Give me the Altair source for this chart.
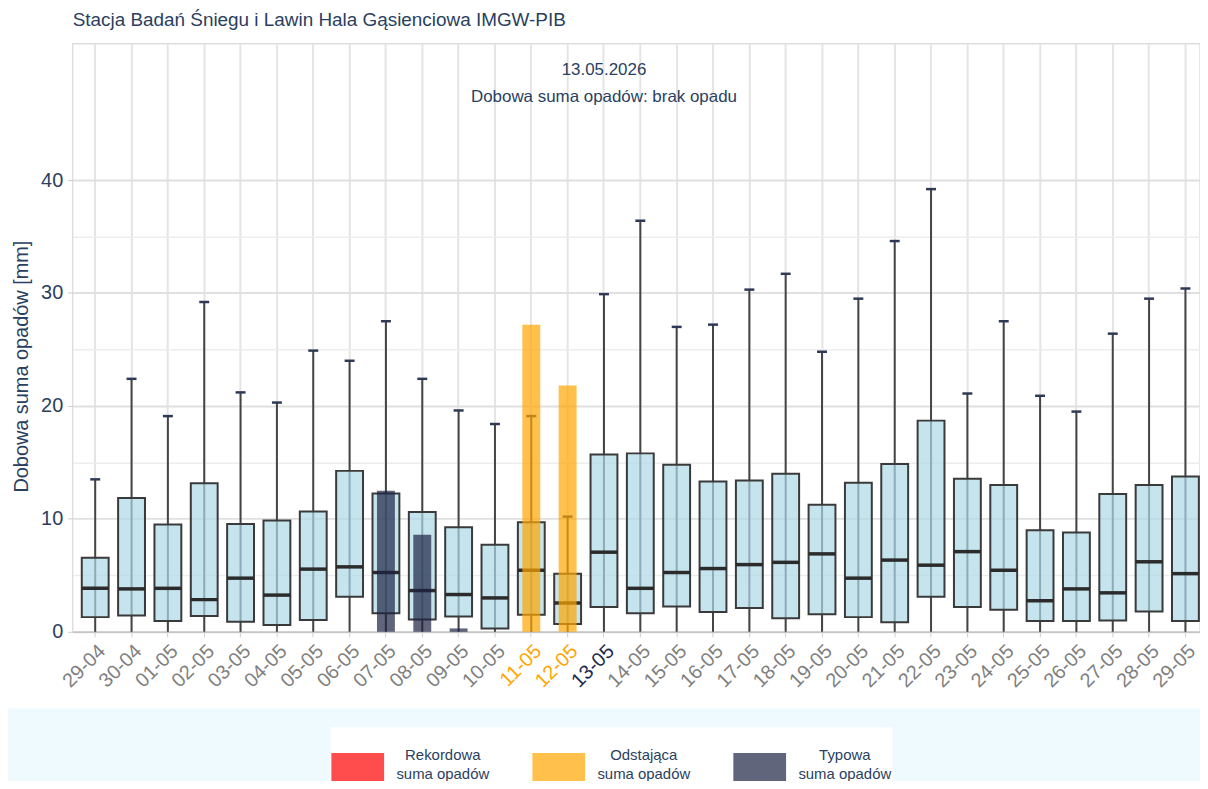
import altair as alt
import pandas as pd

# ---- data ----
dates = ["29-04", "30-04", "01-05", "02-05", "03-05", "04-05", "05-05", "06-05",
         "07-05", "08-05", "09-05", "10-05", "11-05", "12-05", "13-05", "14-05",
         "15-05", "16-05", "17-05", "18-05", "19-05", "20-05", "21-05", "22-05",
         "23-05", "24-05", "25-05", "26-05", "27-05", "28-05", "29-05"]
lows = [0.0] * 31
q1 = [1.3, 1.45, 0.95, 1.4, 0.9, 0.6, 1.05, 3.1, 1.65, 1.1, 1.35, 0.3, 1.5, 0.7, 2.2, 1.65,
      2.25, 1.75, 2.1, 1.2, 1.55, 1.3, 0.85, 3.1, 2.2, 1.95, 0.95, 0.95, 1.0, 1.8, 0.95]
medians = [3.85, 3.8, 3.85, 2.85, 4.75, 3.25, 5.55, 5.75, 5.25, 3.65, 3.3, 3.0, 5.45, 2.55, 7.05, 3.85,
           5.25, 5.6, 5.95, 6.15, 6.9, 4.75, 6.35, 5.9, 7.1, 5.45, 2.75, 3.8, 3.45, 6.2, 5.15]
q3 = [6.55, 11.85, 9.5, 13.15, 9.55, 9.85, 10.65, 14.25, 12.25, 10.6, 9.25, 7.7, 9.7, 5.15, 15.7, 15.8,
      14.8, 13.3, 13.4, 14.0, 11.25, 13.2, 14.85, 18.7, 13.55, 13.0, 9.0, 8.8, 12.2, 13.0, 13.75]
highs = [13.5, 22.4, 19.1, 29.2, 21.2, 20.3, 24.9, 24.0, 27.5, 22.4, 19.6, 18.4, 19.1, 10.2, 29.9, 36.4,
         27.0, 27.2, 30.3, 31.7, 24.8, 29.5, 34.6, 39.2, 21.1, 27.5, 20.9, 19.5, 26.4, 29.5, 30.4]

obs_dates = ["07-05", "08-05", "09-05", "11-05", "12-05"]
obs_values = [12.5, 8.6, 0.3, 27.2, 21.8]
obs_class = ["Typowa", "Typowa", "Typowa", "Odstająca", "Odstająca"]

class_names = ["Rekordowa", "Odstająca", "Typowa"]
class_colors = ["#ff0000", "#ffa500", "#1c2445"]

today = "13-05"
note_lines = "13.05.2026\nDobowa suma opadów: brak opadu"
title_text = "Stacja Badań Śniegu i Lawin Hala Gąsienciowa IMGW-PIB"
y_title = "Dobowa suma opadów [mm]"

# ---- tables ----
box_df = pd.DataFrame({"date": dates, "lo": lows, "q1": q1, "med": medians, "q3": q3, "hi": highs})
obs_df = pd.DataFrame({"date": obs_dates, "value": obs_values, "klasa": obs_class})
note_df = pd.DataFrame({"date": [today], "txt": [note_lines]})
strip_df = pd.DataFrame({"a": [0]})

NAVY = "#2a3f5f"
FONT = "Liberation Sans"

xscale = alt.Scale(domain=dates, paddingInner=0, paddingOuter=0.12, range=[0, 1141])
yscale = alt.Scale(domain=[0, 52.07], nice=False, zero=True)

x_axis = alt.Axis(
    title=None, labelAngle=-45, labelFontSize=20, labelPadding=4,
    labelColor={"condition": [
        {"test": "datum.value === '11-05' || datum.value === '12-05'", "value": "#ffa500"},
        {"test": "datum.value === '13-05'", "value": "#1b2a4e"}],
        "value": "#7f7f7f"},
    bandPosition=0.5, grid=True, gridColor="#e4e4e4", gridWidth=2,
    tickColor="#cccccc", tickSize=5, domainColor="#c4c4c4", domainWidth=1.5,
)
y_axis = alt.Axis(
    values=[0, 5, 10, 15, 20, 25, 30, 35, 40],
    labelExpr="datum.value % 10 === 0 ? datum.label : ''",
    labelFontSize=20, labelColor=NAVY, labelPadding=5,
    grid=True,
    gridColor={"condition": {"test": "datum.value % 10 === 0", "value": "#e0e0e0"}, "value": "#ededed"},
    gridWidth={"condition": {"test": "datum.value % 10 === 0", "value": 2}, "value": 1.5},
    tickColor="#cccccc", tickSize=5,
    tickOpacity={"condition": {"test": "datum.value % 10 === 0", "value": 1}, "value": 0},
    domain=False,
    title=y_title, titleFontSize=20, titleFontWeight="normal", titleColor=NAVY,
    titleX=-51, titleY=324, titleAlign="center", titleBaseline="middle", titleAngle=-90,
)

base = alt.Chart(box_df)
xenc = alt.X("date:N", scale=xscale, axis=x_axis, sort=dates)

whisker = base.mark_rule(color="#444444", strokeWidth=2).encode(
    x=xenc, y=alt.Y("lo:Q", scale=yscale, axis=y_axis), y2="hi:Q")
box = base.mark_bar(width=27, fill="#add8e6", fillOpacity=0.7, stroke="#3a3a3a", strokeWidth=2).encode(
    x=alt.X("date:N", sort=dates), y="q1:Q", y2="q3:Q")
median = base.mark_tick(size=27, thickness=3.5, color="#2b2b2b", opacity=1).encode(
    x=alt.X("date:N", sort=dates), y="med:Q")
cap = base.mark_tick(size=10, thickness=2.5, color="#2e3a55", opacity=1).encode(
    x=alt.X("date:N", sort=dates), y="hi:Q")

bars = alt.Chart(obs_df).mark_bar(width=18, opacity=0.7).encode(
    x=alt.X("date:N", sort=dates),
    y="value:Q",
    color=alt.Color("klasa:N",
                    scale=alt.Scale(domain=class_names, range=class_colors),
                    legend=alt.Legend(
                        title=None, orient="none", legendX=259, legendY=687,
                        direction="horizontal",
                        symbolType="M-1,-0.075L1,-0.075L1,1.057L-1,1.057Z",
                        symbolSize=2809, symbolStrokeWidth=0, symbolOpacity=0.7,
                        labelFontSize=15, labelColor=NAVY, labelFont=FONT,
                        labelAlign="center", labelOffset=59, labelLimit=200,
                        labelExpr="[datum.label, 'suma opadów']",
                        columnPadding=43, padding=1, fillColor="white",
                    )),
)

note = alt.Chart(note_df).mark_text(
    fontSize=17, color=NAVY, lineBreak="\n", lineHeight=28, baseline="middle", align="center"
).encode(x=alt.X("date:N", sort=dates), y=alt.value(26), text="txt:N")

strip = alt.Chart(strip_df).mark_rect(color="#eefafd").encode(
    x=alt.value(-80), x2=alt.value(1200), y=alt.value(668), y2=alt.value(745))

chart = alt.layer(strip, whisker, box, median, cap, bars, note).properties(
    width=1133, height=591,
    padding={"left": 65, "top": 34, "right": 0, "bottom": 148},
    autosize=alt.AutoSizeParams(type="none"),
    title=alt.TitleParams(text=title_text, anchor="start", frame="group", fontSize=19,
                          fontWeight="normal", color=NAVY, offset=14, font=FONT),
).configure(
    font=FONT, background="white",
    style={"guide-label": {"lineHeight": 19}},
).configure_view(
    stroke="#dedede", strokeWidth=1.5, fill="white",
)

chart.save("out.html", embed_options={"renderer": "svg", "actions": False})
